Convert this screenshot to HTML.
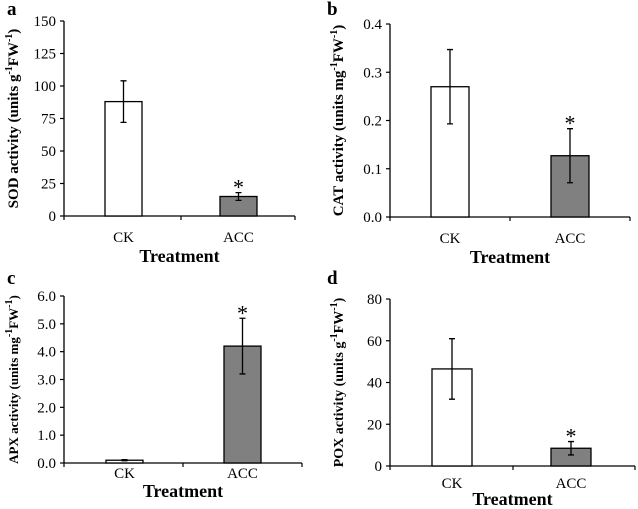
<!DOCTYPE html>
<html><head><meta charset="utf-8"><style>
body{margin:0;background:#fff}
svg{display:block;font-family:"Liberation Serif",serif}
</style></head><body>
<svg id="chart" width="638" height="509"></svg>
<script>
const categories=["CK","ACC"];
const sodValues=[88,15];
const sodErrors=[16,3];
const sodTicks=[0,25,50,75,100,125,150];
const catValues=[0.27,0.127];
const catErrors=[0.077,0.056];
const catTicks=[0,0.1,0.2,0.3,0.4];
const apxValues=[0.1,4.2];
const apxErrors=[0.02,1.0];
const apxTicks=[0,1,2,3,4,5,6];
const poxValues=[46.5,8.5];
const poxErrors=[14.5,3.2];
const poxTicks=[0,20,40,60,80];

const NS="http://www.w3.org/2000/svg";
const svg=document.getElementById('chart');
function mk(tag,attrs,parent,text){const e=document.createElementNS(NS,tag);for(const k in attrs)e.setAttribute(k,attrs[k]);if(text!==undefined)e.textContent=text;parent.appendChild(e);return e;}

function panel(cfg){
  const g=mk('g',{},svg);
  
  
  const max=cfg.ticks[cfg.ticks.length-1];
  const y=v=>cfg.base-(v/max)*(cfg.base-cfg.top);
  const mid=(cfg.x0+cfg.x1)/2;
  const x=i=>cfg.bx[i];
  const l=mk('text',{x:cfg.lx,y:cfg.ly,'font-size':19,'font-weight':'bold'},g,cfg.letter);
  
  
  const ya=mk('line',{x1:cfg.x0,y1:cfg.top,x2:cfg.x0,y2:cfg.base,stroke:'#000','stroke-width':1.3},g);
  
  
  cfg.ticks.forEach(t=>{
    mk('line',{x1:cfg.x0-4,y1:y(t),x2:cfg.x0,y2:y(t),stroke:'#000','stroke-width':1.2},g);
    const tl=mk('text',{x:cfg.x0-8,y:y(t)+5,'font-size':15,'text-anchor':'end'},g,cfg.fmt(t));
    
    
  });
  const xa=mk('line',{x1:cfg.x0,y1:cfg.base,x2:cfg.x1,y2:cfg.base,stroke:'#000','stroke-width':1.3},g);
  
  
  [cfg.x0,cfg.xm,cfg.x1].forEach(tx=>mk('line',{x1:tx,y1:cfg.base,x2:tx,y2:cfg.base+4,stroke:'#000','stroke-width':1.2},g));
  cfg.values.forEach((v,i)=>{
    const bx=x(i);
    const b=mk('rect',{x:bx,y:y(v),width:cfg.bw,height:cfg.base-y(v),fill:i===0?'#fff':'#808080',stroke:'#000','stroke-width':1.3},g);
    
    
    const cx=bx+cfg.bw/2,e=cfg.errors[i];
    const eb=mk('path',{d:`M${cx},${y(v+e)}V${y(Math.max(0,v-e))}M${cx-3},${y(v+e)}H${cx+3}M${cx-3},${y(Math.max(0,v-e))}H${cx+3}`,stroke:'#000','stroke-width':1.3,fill:'none'},g);
    
    
    if(i===1){
      const s=mk('text',{x:cx,y:y(v+e)+2,'font-size':22,'text-anchor':'middle'},g,'*');
      
      
    }
    const xl=mk('text',{x:cx,y:cfg.base+cfg.cko,'font-size':15,'text-anchor':'middle'},g,categories[i]);
    
    
  });
  const xt=mk('text',{x:mid,y:cfg.base+cfg.tro,'font-size':18,'font-weight':'bold','text-anchor':'middle'},g,'Treatment');
  
  
  const yc=(cfg.top+cfg.base)/2;
  const yt=mk('text',{x:cfg.tx,y:yc,'font-size':cfg.tfs,'font-weight':'bold','text-anchor':'middle',transform:`rotate(-90 ${cfg.tx} ${yc})`},g);
  
  
  mk('tspan',{},yt,cfg.title+' activity (units '+cfg.unit);
  mk('tspan',{dy:-6,'font-size':10},yt,'-1');
  mk('tspan',{dy:6},yt,'FW');
  mk('tspan',{dy:-6,'font-size':10},yt,'-1');
  mk('tspan',{dy:6},yt,')');
}
const f0=t=>String(t), f1=t=>t.toFixed(1);
panel({letter:'a',lx:7,ly:15,x0:64,x1:295,xm:181,top:21,base:216,bx:[105,220],bw:37,values:sodValues,errors:sodErrors,ticks:sodTicks,fmt:f0,tx:18,tfs:15,cko:26,tro:46,title:'SOD',unit:'g'});
panel({letter:'b',lx:327,ly:15,x0:390,x1:630,xm:510,top:24,base:217,bx:[431,551],bw:38,values:catValues,errors:catErrors,ticks:catTicks,fmt:f1,tx:343,tfs:15,cko:26,tro:46,title:'CAT',unit:'mg'});
panel({letter:'c',lx:7,ly:284,x0:64,x1:302,xm:183,top:296,base:463,bx:[106,224],bw:37,values:apxValues,errors:apxErrors,ticks:apxTicks,fmt:f1,tx:18,tfs:13,cko:15,tro:34,title:'APX',unit:'mg'});
panel({letter:'d',lx:327,ly:284,x0:390,x1:635,xm:513,top:299,base:466,bx:[432,551],bw:40,values:poxValues,errors:poxErrors,ticks:poxTicks,fmt:f0,tx:343,tfs:14,cko:22,tro:39,title:'POX',unit:'g'});
</script>
</body></html>
